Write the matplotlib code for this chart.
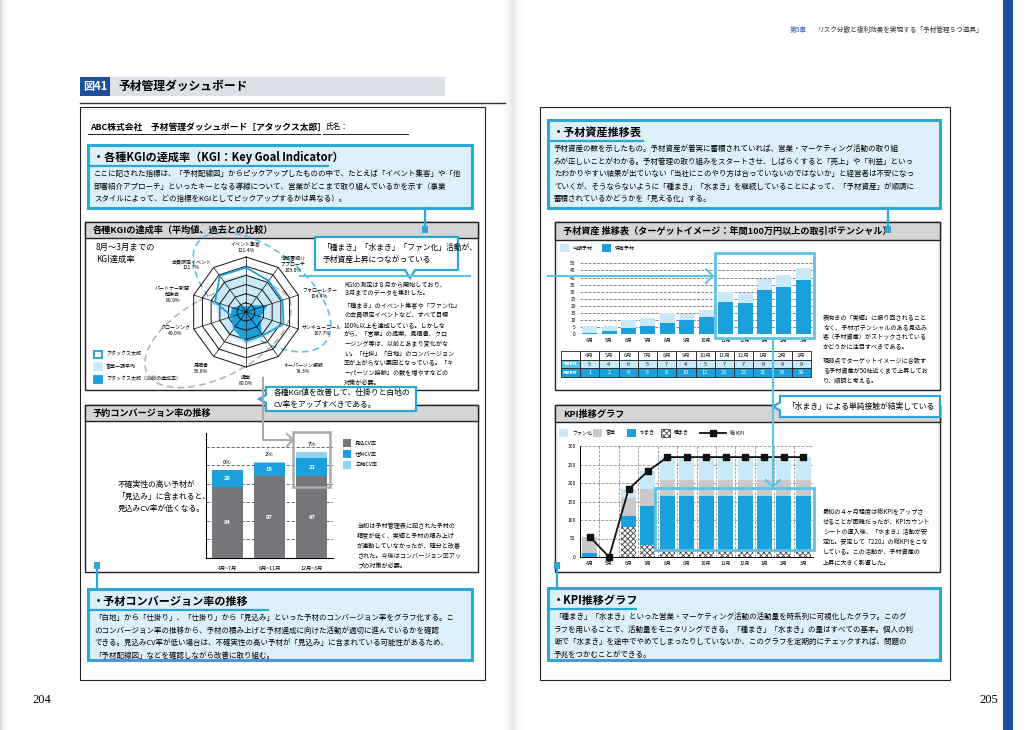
import numpy as np
import matplotlib.pyplot as plt
from matplotlib.patches import Rectangle, Polygon, Ellipse

plt.rcParams['font.family'] = ['Noto Sans CJK JP', 'DejaVu Sans']
plt.rcParams['hatch.linewidth'] = 0.6

# ---- データ ----
kgi_names = ["イベント集客", "他部署紹介\nアプローチ", "フォローレター", "サンキューコール",
             "キーパーソン接触", "提案", "見積書", "クロージング", "パートナー新聞\n勉強会",
             "会員限定イベント"]
kgi_now = [121.4, 105.0, 104.4, 107.7, 78.3, 80.0, 55.6, 40.0, 88.9, 121.7]
kgi_avg = [105, 98, 100, 100, 88, 88, 80, 78, 90, 108]
kgi_prev = [15, 22, 62, 42, 72, 80, 52, 45, 40, 22]

cv_periods = ["4月~7月", "8月~11月", "12月~3月"]
cv_mikomi = [84, 97, 97]
cv_shikake = [20, 15, 21]
cv_shiraji = [0, 2, 7]

months = ["4月", "5月", "6月", "7月", "8月", "9月", "10月", "11月", "12月", "1月", "2月", "3月"]
asset_now = [5, 4, 6, 5, 7, 4, 5, 7, 7, 8, 9, 9]
asset_hold = [1, 2, 4, 6, 8, 10, 12, 23, 22, 31, 33, 38]

kpi_tane = [0, 0, 80, 32, 22, 22, 22, 22, 22, 22, 22, 22]
kpi_mizu = [12, 0, 30, 105, 143, 143, 143, 143, 143, 143, 143, 143]
kpi_eigyo = [43, 0, 50, 48, 44, 44, 44, 44, 44, 44, 44, 44]
kpi_fan = [0, 0, 23, 47, 61, 61, 61, 61, 61, 61, 61, 61]
kpi_total = [55, 0, 183, 232, 270, 270, 270, 270, 270, 270, 270, 270]

BLUE = "#1aa0dc"
LBLUE = "#c9e9f8"
FRAME = "#2ea6d6"
FILL = "#dcf0fa"
HL = "#5cc2e8"
SMALL = 4.4
LS = 1.36

W, H = 1027, 730
fig = plt.figure(figsize=(10.27, 7.30), dpi=100)


def px_axes(x0, y0, x1, y1):
    return fig.add_axes([x0 / W, 1 - y1 / H, (x1 - x0) / W, (y1 - y0) / H])


page = px_axes(0, 0, W, H)
page.axis("off")

# 見開きの影
grad = np.abs(np.linspace(-1, 1, 60))[None, :]
page.imshow((1 - grad) ** 2, extent=(500, 526, H, 0), cmap="Greys", vmin=0, vmax=5, aspect="auto")
page.imshow(np.linspace(1, 0, 20)[None, :] ** 2, extent=(0, 10, H, 0), cmap="Greys", vmin=0, vmax=4, aspect="auto")
page.add_patch(Rectangle((1003, 0), 10, H, fc="#1d4f9c", ec="none"))
page.set_xlim(0, W)
page.set_ylim(H, 0)


def section(x0, y0, x1, y1, title, hh=16):
    page.add_patch(Rectangle((x0, y0), x1 - x0, y1 - y0, fc="white", ec="#222", lw=1.0))
    page.add_patch(Rectangle((x0, y0), x1 - x0, hh, fc="#d5d5d5", ec="#222", lw=1.0))
    page.text(x0 + 8, y0 + hh / 2 + 0.5, title, fontsize=6.6, weight="bold", va="center")


def callout(x0, y0, x1, y1, title, body, tw):
    page.add_patch(Rectangle((x0, y0), x1 - x0, y1 - y0, fc=FILL, ec=FRAME, lw=2.2))
    page.text(x0 + 5, y0 + 12, title, fontsize=8, weight="bold", va="center")
    page.plot([x0, x0 + tw], [y0 + 21, y0 + 21], color=FRAME, lw=1.6)
    page.text(x0 + 6, y0 + 25, body, fontsize=5.4, va="top", linespacing=1.75)


def note(x, y, s, ls=LS):
    page.text(x, y, s, fontsize=SMALL, va="top", linespacing=ls)


# ---- 左ページ ----
page.add_patch(Rectangle((80, 77), 365, 19, fc="#dde1e7", ec="none"))
page.add_patch(Rectangle((80, 77), 30, 19, fc="#1d4f9c", ec="none"))
page.text(95, 86.5, "図41", color="white", fontsize=8, weight="bold", ha="center", va="center")
page.text(118, 86.5, "予材管理ダッシュボード", fontsize=8.5, weight="bold", va="center")
page.plot([80, 505], [103, 103], color="#333", lw=1.0)
page.add_patch(Rectangle((80, 107), 405, 573, fc="white", ec="#222", lw=0.8))

page.text(90, 127, "ABC株式会社　予材管理ダッシュボード［アタックス太郎］", fontsize=6.3, weight="bold", va="center")
page.text(326, 127, "氏名：", fontsize=5.5, va="center")
page.plot([88, 320], [134, 134], color="#222", lw=0.7)
page.plot([323, 408], [134, 134], color="#222", lw=0.7)

callout(88, 145, 472, 208, "・各種KGIの達成率（KGI：Key Goal Indicator）",
        "ここに記された指標は、「予材配線図」からピックアップしたものの中で、たとえば「イベント集客」や「他\n"
        "部署紹介アプローチ」といったキーとなる導線について、営業がどこまで取り組んでいるかを示す（事業\n"
        "スタイルによって、どの指標をKGIとしてピックアップするかは異なる）。", 240)

section(85, 222, 478, 390, "各種KGIの達成率（平均値、過去との比較）")
page.text(96, 243, "8月～3月までの\nKGI達成率", fontsize=6, va="top", linespacing=1.45)
for i, (lab, fc, ec) in enumerate([("アタックス太郎", "white", BLUE), ("営業一課平均", LBLUE, LBLUE),
                                   ("アタックス太郎（以前の達成率）", BLUE, BLUE)]):
    y = 354 + i * 12.5
    page.add_patch(Rectangle((94, y - 3.5), 8, 7, fc=fc, ec=ec, lw=1.3))
    page.text(106, y, lab, fontsize=3.6, va="center")

note(344, 280, "KGIの測定は８月から開始しており、\n３月までのデータを集計した。", ls=1.28)
note(344, 302, "「種まき」のイベント集客や「ファン化」\nの会員限定イベントなど、すべて目標\n"
     "100％以上を達成している。しかしな\nがら、「営業」の提案、見積書、クロ\n"
     "ージング等は、以前とあまり変化がな\nい。「仕掛」「白地」のコンバージョン\n"
     "率が上がらない要因となっている。「キ\nーパーソン接触」の数を増やすなどの\n対策が必要。", ls=1.26)

page.add_patch(Ellipse((262, 292), 162, 84, angle=38, fc="none", ec=HL, lw=1.2, ls=(0, (4, 2.5))))
page.add_patch(Ellipse((218, 336), 160, 80, angle=-28, fc="none", ec="#b5b5b5", lw=1.2, ls=(0, (4, 2.5))))

section(85, 405, 478, 572, "予約コンバージョン率の推移")
page.text(118, 497, "不確実性の高い予材が\n「見込み」に含まれると、\n見込みCV率が低くなる。", fontsize=5.6, va="center", linespacing=1.6)
note(357, 522, "当初は予材管理表に記された予材の\n精度が低く、実績と予材の積み上げ\nが連動していなかったが、随分と改善\n"
     "された。今後はコンバージョン率アッ\nプの対策が必要。")
for i, (lab, fc) in enumerate([("見込CV率", "#77777b"), ("仕掛CV率", BLUE), ("白地CV率", "#8fd4f4")]):
    y = 443 + i * 11
    page.add_patch(Rectangle((343, y - 4), 8, 8, fc=fc, ec="none"))
    page.text(355, y, lab, fontsize=3.8, va="center")

callout(88, 589, 472, 660, "・予材コンバージョン率の推移",
        "「白地」から「仕掛り」、「仕掛り」から「見込み」といった予材のコンバージョン率をグラフ化する。こ\n"
        "のコンバージョン率の推移から、予材の積み上げと予材達成に向けた活動が適切に進んでいるかを確認\n"
        "できる。見込みCV率が低い場合は、不確実性の高い予材が「見込み」に含まれている可能性があるため、\n"
        "「予材配線図」などを確認しながら改善に取り組む。", 180)

page.text(32, 700, "204", fontsize=9, family="Liberation Serif", va="center")
page.text(979, 700, "205", fontsize=9, family="Liberation Serif", va="center")

# ---- 右ページ ----
page.text(790, 30, "第5章", fontsize=4.8, color="#2c64b0", va="center")
page.text(818, 30, "リスク分散と複利効果を実現する「予材管理５つ道具」", fontsize=4.8, color="#333", va="center")
page.add_patch(Rectangle((540, 107), 410, 573, fc="white", ec="#222", lw=0.8))

callout(548, 120, 940, 208, "・予材資産推移表",
        "予材資産の数を示したもの。予材資産が着実に蓄積されていれば、営業・マーケティング活動の取り組\n"
        "みが正しいことがわかる。予材管理の取り組みをスタートさせ、しばらくすると「売上」や「利益」といっ\n"
        "たわかりやすい結果が出ていない「当社にこのやり方は合っていないのではないか」と経営者は不安になっ\n"
        "ていくが、そうならないように「種まき」「水まき」を継続していることによって、「予材資産」が順調に\n"
        "蓄積されているかどうかを「見える化」する。", 95)

section(555, 222, 940, 390, "予材資産 推移表（ターゲットイメージ：年間100万円以上の取引ポテンシャル）", hh=18)
for i, (lab, fc) in enumerate([("今期予材", LBLUE), ("保有予材", BLUE)]):
    x = 560 + i * 42
    page.add_patch(Rectangle((x, 244), 9, 8, fc=fc, ec="none"))
    page.text(x + 13, 248, lab, fontsize=3.6, va="center")
note(823, 313, "表向きの「実績」に振り回されること\nなく、予材ポテンシャルのある見込み\n客（予材資産）がストックされている\n"
     "かどうかに注目すべきである。")
note(823, 357, "現時点でターゲットイメージに合致す\nる予材資産が50社近くまで上昇してお\nり、順調と考える。")

# 表
tx0, tx1, cw = 561, 580, 19.25
rows = [("", months, "white", "#222", "white", "#222"),
        ("今期予材", asset_now, HL, "white", LBLUE, "#222"),
        ("保有予材", asset_hold, BLUE, "white", BLUE, "white")]
for r, (lab, vals, lfc, lc, vfc, vc) in enumerate(rows):
    y = 351 + r * 8.6
    page.add_patch(Rectangle((tx0, y), tx1 - tx0, 8.6, fc=lfc, ec="#222", lw=0.6))
    page.text((tx0 + tx1) / 2, y + 4.5, lab, fontsize=2.6, color=lc, ha="center", va="center", weight="bold")
    for c, v in enumerate(vals):
        page.add_patch(Rectangle((tx1 + c * cw, y), cw, 8.6, fc=vfc, ec="#222", lw=0.6))
        page.text(tx1 + c * cw + cw / 2, y + 4.5, str(v), fontsize=4, color=vc, ha="center", va="center")

section(555, 405, 940, 572, "KPI推移グラフ", hh=17)
leg = [("ファン化", LBLUE, None), ("営業", "#c9c9c9", None), ("水まき", BLUE, None), ("種まき", "white", "xxxxxx")]
for i, (lab, fc, hatch) in enumerate(leg):
    x = 559 + i * 34
    page.add_patch(Rectangle((x, 429), 9, 8, fc=fc, ec="#444" if hatch else "none", lw=0.6, hatch=hatch))
    page.text(x + 13, 433, lab, fontsize=3.6, va="center")
page.plot([700, 726], [433, 433], color="#111", lw=1.3)
page.plot([713], [433], marker="s", ms=4.5, color="#111")
page.text(730, 433, "総 KPI", fontsize=3.6, va="center")
note(823, 508, "最初の４ヶ月程度は総KPIをアップさ\nせることが困難だったが、KPIカウント\nシートの導入後、「水まき」活動が安\n"
     "定化。安定して「220」の総KPIをこな\nしている。この活動が、予材資産の\n上昇に大きく影響した。")

callout(548, 588, 940, 660, "・KPI推移グラフ",
        "「種まき」「水まき」といった営業・マーケティング活動の活動量を時系列に可視化したグラフ。このグ\n"
        "ラフを用いることで、活動量をモニタリングできる。「種まき」「水まき」の量はすべての基本。個人の判\n"
        "断で「水まき」を途中でやめてしまったりしていないか、このグラフを定期的にチェックすれば、問題の\n"
        "予兆をつかむことができる。", 88)

# ---- レーダーチャート ----
rx = px_axes(146, 212, 346, 412)
rx.axis("off")
L = 150 * 100 / 55
rx.set_xlim(-L, L)
rx.set_ylim(-L, L)
ang = np.arange(10) * 2 * np.pi / 10


def rxy(vals):
    v = np.asarray(vals, dtype=float)
    x, y = v * np.sin(ang), v * np.cos(ang)
    return np.r_[x, x[0]], np.r_[y, y[0]]


rx.fill(*rxy(kgi_avg), color=LBLUE, lw=0)
rx.fill(*rxy(kgi_prev), color=BLUE, lw=0)
for r in np.arange(25, 151, 25):
    rx.plot(*rxy([r] * 10), color="#111", lw=0.7)
for a in ang:
    rx.plot([0, 150 * np.sin(a)], [0, 150 * np.cos(a)], color="#111", lw=0.5)
rx.plot(*rxy(kgi_now), color=BLUE, lw=1.3)
for a, name, v in zip(ang, kgi_names, kgi_now):
    s, c = np.sin(a), np.cos(a)
    ha = "left" if s > 0.1 else ("right" if s < -0.1 else "center")
    va = "bottom" if c > 0.9 else ("top" if c < -0.5 else "center")
    rr = 172 if c < -0.5 else 160
    rx.text(rr * s, rr * c, f"{name}\n{v:.1f}%", fontsize=3.6, ha=ha, va=va, linespacing=1.3,
            multialignment="center")

# ---- 予約コンバージョン率 ----
cx = px_axes(206, 433, 333, 558)
pos = np.arange(len(cv_periods))
top1 = np.add(cv_mikomi, cv_shikake)
cx.bar(pos, cv_mikomi, 0.74, color="#77777b", zorder=3)
cx.bar(pos, cv_shikake, 0.74, bottom=cv_mikomi, color=BLUE, zorder=3)
cx.bar(pos, cv_shiraji, 0.74, bottom=top1, color="#8fd4f4", zorder=3)
for p, a, b, c in zip(pos, cv_mikomi, cv_shikake, cv_shiraji):
    cx.text(p, a / 2, str(a), color="white", fontsize=4.2, weight="bold", ha="center", va="center", zorder=4)
    cx.text(p, a + b / 2, str(b), color="white", fontsize=4.2, weight="bold", ha="center", va="center", zorder=4)
    cx.text(p, a + b + c + 6, f"{c}%", fontsize=4.2, ha="center", va="bottom", zorder=4)
cx.set_xlim(-0.5, 2.5)
cx.set_ylim(0, 148)
cx.set_yticks(np.arange(22, 140, 22))
cx.yaxis.grid(True, color="#555", lw=0.6, ls=(0, (4, 2)))
cx.set_axisbelow(True)
cx.tick_params(left=False, labelleft=False, bottom=False, labelsize=3.8, pad=2)
cx.set_xticks(pos, cv_periods)
for s in ["top", "right"]:
    cx.spines[s].set_visible(False)
cx.spines["left"].set_linewidth(0.8)
cx.spines["bottom"].set_linewidth(0.8)
cx.patch.set_alpha(0)

# ---- 予材資産 推移表 ----
ax1 = px_axes(580, 262, 813, 334)
mpos = np.arange(len(months))
ax1.bar(mpos, asset_hold, 0.77, color=BLUE, zorder=3)
ax1.bar(mpos, asset_now, 0.77, bottom=asset_hold, color=LBLUE, zorder=3)
ax1.set_xlim(-0.5, 11.5)
ax1.set_ylim(0, 51)
ax1.set_yticks(np.arange(0, 51, 5))
ax1.yaxis.grid(True, color="#555", lw=0.5, ls=(0, (4, 2)))
ax1.set_axisbelow(True)
ax1.set_xticks(mpos, months)
ax1.tick_params(length=0, labelsize=3.6, pad=3)
for s in ax1.spines.values():
    s.set_visible(False)
ax1.patch.set_alpha(0)

# ---- KPI推移グラフ ----
ax2 = px_axes(580, 446, 813, 557)
ax2.bar(mpos, kpi_tane, 0.77, color="white", edgecolor="#444", hatch="xxxxxx", lw=0, zorder=3)
b1 = np.array(kpi_tane)
ax2.bar(mpos, kpi_mizu, 0.77, bottom=b1, color=BLUE, zorder=3)
b2 = b1 + np.array(kpi_mizu)
ax2.bar(mpos, kpi_eigyo, 0.77, bottom=b2, color="#c9c9c9", zorder=3)
b3 = b2 + np.array(kpi_eigyo)
ax2.bar(mpos, kpi_fan, 0.77, bottom=b3, color=LBLUE, zorder=3)
ax2.plot(mpos, kpi_total, color="#111", lw=1.3, marker="s", ms=5, zorder=5, clip_on=False)
ax2.set_xlim(-0.5, 11.5)
ax2.set_ylim(0, 300)
ax2.set_yticks(np.arange(0, 301, 50))
ax2.set_xticks(mpos + 0.5, minor=True)
ax2.yaxis.grid(True, color="#777", lw=0.5, ls=(0, (4, 2)))
ax2.xaxis.grid(True, which="minor", color="#777", lw=0.5, ls=(0, (4, 2)))
ax2.set_axisbelow(True)
ax2.set_xticks(mpos, months)
ax2.tick_params(length=0, labelsize=3.6, pad=3, which="both")
for s in ["top", "right"]:
    ax2.spines[s].set_visible(False)
ax2.spines["left"].set_linewidth(0.7)
ax2.spines["bottom"].set_linewidth(0.7)
ax2.patch.set_alpha(0)

# ---- 上に重ねる吹き出し・矢印 ----
top = px_axes(0, 0, W, H)
top.set_xlim(0, W)
top.set_ylim(H, 0)
top.axis("off")


def marker_line(x, y0, y1, sq_y):
    top.plot([x, x], [y0, y1], color=FRAME, lw=1.6)
    top.add_patch(Rectangle((x - 2.8, sq_y - 3), 5.6, 6.5, fc=FRAME, ec="none"))


marker_line(425, 208, 228, 229)
marker_line(888, 208, 228, 229)
marker_line(97, 566, 589, 565)
marker_line(557, 566, 588, 565)

# 吹き出し（下向き）
x0, y0, x1, y1, px = 315, 237, 458, 270, 410
top.add_patch(Polygon([(x0, y0), (x1, y0), (x1, y1), (px + 5, y1), (px, y1 + 8), (px - 5, y1), (x0, y1)],
                      closed=True, fc="white", ec=FRAME, lw=1.6))
top.text(323, 253.5, "「種まき」「水まき」「ファン化」活動が、\n予材資産上昇につながっている", fontsize=5.6, va="center",
         linespacing=1.6)


def left_callout(x0, y0, x1, y1, text):
    ym = (y0 + y1) / 2
    top.add_patch(Polygon([(x0, y0), (x1, y0), (x1, y1), (x0, y1), (x0, ym + 4), (x0 - 7, ym), (x0, ym - 4)],
                          closed=True, fc="white", ec=FRAME, lw=1.6))
    top.text(x0 + 8, ym, text, fontsize=5.6, va="center", linespacing=1.6)


left_callout(266, 387, 416, 411, "各種KGI値を改善して、仕掛りと白地の\nCV率をアップすべきである。")
left_callout(780, 396, 940, 417, "「水まき」による単純接触が結実している")

# 灰色の線と枠
top.plot([263, 263, 292], [378, 440, 440], color="#aaa", lw=1.5)
top.plot([287, 293, 287], [434, 440, 446], color="#aaa", lw=1.5)
top.add_patch(Rectangle((293, 432), 37, 55, fc="none", ec="#aaa", lw=1.8))

# 青の線・矢印
top.plot([300, 470], [276, 276], color=HL, lw=1.5)
top.plot([548, 713], [276, 276], color=HL, lw=1.5)
top.plot([706, 713, 706], [269, 276, 283], color=HL, lw=1.5)
top.add_patch(Rectangle((715, 253), 99, 85, fc="none", ec=HL, lw=2))
top.plot([773, 773], [338, 487], color=HL, lw=1.5)
top.plot([766, 773, 780], [480, 487, 480], color=HL, lw=1.5)
top.add_patch(Rectangle((655, 488), 159, 62, fc="none", ec=HL, lw=2))

fig.savefig("out.png", dpi=100)
